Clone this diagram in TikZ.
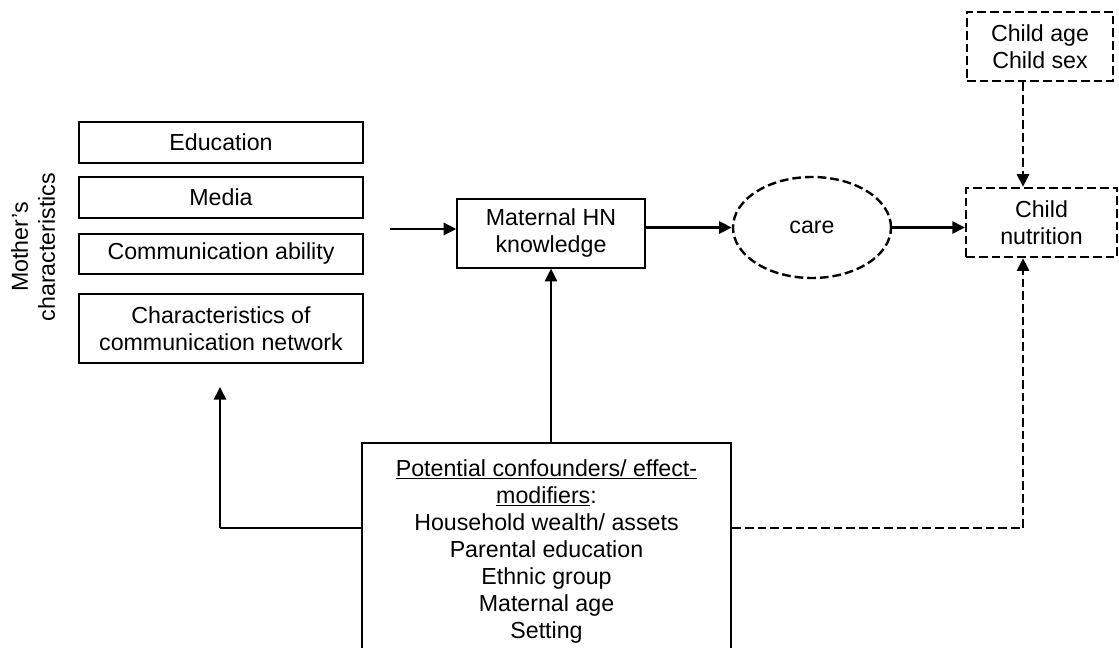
\documentclass[tikz,border=0pt]{standalone}
\usepackage{fontspec}
\setmainfont{Liberation Sans}
\usetikzlibrary{arrows.meta,shapes.geometric,calc}
\begin{document}
\begin{tikzpicture}[x=0.75pt,y=-0.75pt,
  every node/.style={font=\fontsize{17.4pt}{20.25pt}\selectfont, align=center, inner sep=0pt},
  thinbox/.style={draw, line width=0.9pt, rectangle},
  thickbox/.style={draw, line width=1.8pt, rectangle},
  dashbox/.style={draw, line width=1.8pt, rectangle, dash pattern=on 6.5pt off 3pt},
  conn/.style={line width=2pt, -{Triangle[length=9.5pt 0,width=9pt 0]}},
  dconn/.style={conn, dash pattern=on 6.5pt off 3pt},
  plain/.style={line width=2pt}
]
\useasboundingbox (0,0) rectangle (1119,648);

% left characteristic boxes
\node[thinbox, minimum width=213pt, minimum height=30.75pt] (edu) at (221,142.5) {Education};
\node[thinbox, minimum width=213pt, minimum height=30.75pt] (med) at (221,197.5) {Media};
\node[thinbox, minimum width=213pt, minimum height=30pt] (com) at (221,254) {Communication ability};
\node[thinbox, minimum width=213pt, minimum height=51.75pt] (net) at (221,328.5) {Characteristics of\\communication network};
\node[rotate=90] (moth) at (33,247) {Mother's\\characteristics};

% main chain
\node[thinbox, minimum width=141pt, minimum height=51.75pt] (mat) at (551,233.5) {Maternal HN\\knowledge};
\node[ellipse, draw, line width=1.8pt, dash pattern=on 6.5pt off 3pt, minimum width=118.5pt, minimum height=75.75pt] (care) at (812,227.5) {care};
\node[dashbox, minimum width=113pt, minimum height=51.75pt] (nut) at (1041.5,222.5) {Child\\nutrition};
\node[dashbox, minimum width=109.5pt, minimum height=51.75pt] (age) at (1040,46.5) {Child age\\Child sex};

% confounders box
\node[thickbox, minimum width=276.75pt, minimum height=162.75pt] (conf) at (546.5,551.5)
  {\underline{Potential confounders/ effect-}\\\underline{modifiers}:\\Household wealth/ assets\\Parental education\\Ethnic group\\Maternal age\\Setting};

% helper coordinates
\coordinate (in) at (390,229);
\coordinate (cornerL) at (220,528);
\coordinate (tipL) at (220,387);
\coordinate (cornerR) at (1023,528);

% connectors
\draw[conn] (in) -- (mat.west |- in);
\draw[conn] (mat.east |- care.west) -- (care.west);
\draw[conn] (care.east) -- (nut.west |- care.east);
\draw[conn] (mat.south |- conf.north) -- (mat.south);
\draw[plain] (conf.west |- cornerL) -- (cornerL);
\draw[conn] (cornerL) -- (tipL);
\draw[plain, dash pattern=on 6.5pt off 3pt] (conf.east |- cornerR) -- (cornerR);
\draw[dconn] (cornerR) -- (cornerR |- nut.south);
\draw[dconn] (age.south -| cornerR) -- (nut.north -| cornerR);
\end{tikzpicture}
\end{document}
